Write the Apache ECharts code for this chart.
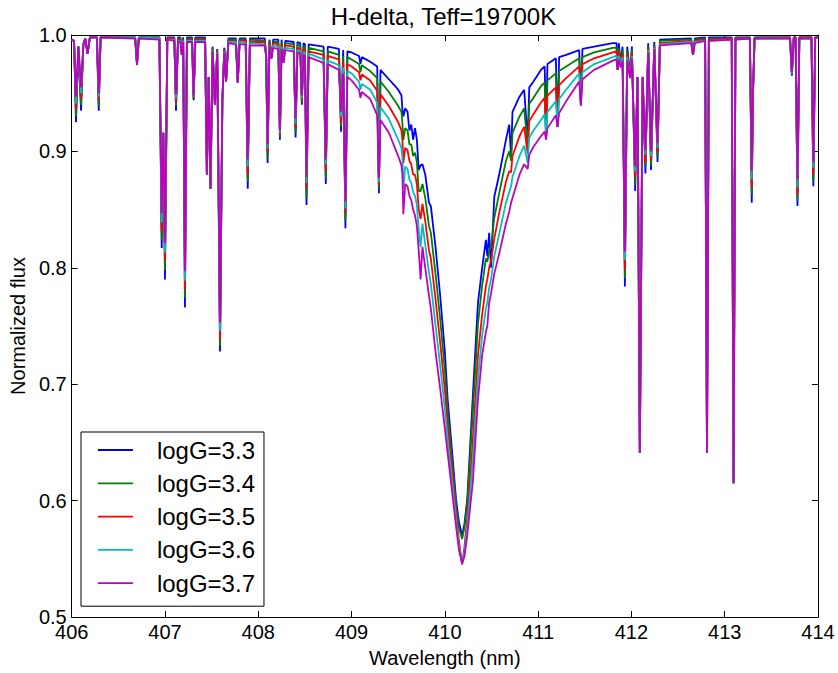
<!DOCTYPE html>
<html>
<head>
<meta charset="utf-8">
<script src="https://cdn.jsdelivr.net/npm/echarts@6/dist/echarts.min.js"></script>
<style>
html,body{margin:0;padding:0;background:#fff;}
#chart{width:838px;height:673px;}
</style>
</head>
<body>
<div id="chart"></div>
<script>
// Wavelength grid (nm), shared by all series
const wavelength = [
  406.000, 406.025, 406.046, 406.072, 406.100, 406.125, 406.145, 406.170,
  406.195, 406.270, 406.290, 406.310, 406.680, 406.700, 406.720, 406.940,
  406.965, 406.982, 407.000, 407.025, 407.100, 407.118, 407.140, 407.165,
  407.180, 407.195, 407.214, 407.235, 407.290, 407.307, 407.325, 407.430,
  407.449, 407.468, 407.488, 407.510, 407.535, 407.560, 407.590, 407.615,
  407.636, 407.655, 407.680, 407.760, 407.780, 407.800, 407.865, 407.887,
  407.910, 408.070, 408.085, 408.100, 408.120, 408.140, 408.160, 408.215,
  408.232, 408.250, 408.270, 408.290, 408.380, 408.400, 408.420, 408.450,
  408.467, 408.485, 408.500, 408.517, 408.540, 408.700, 408.724, 408.745,
  408.865, 408.887, 408.910, 408.934, 408.955, 409.000, 409.080, 409.095,
  409.110, 409.200, 409.275, 409.293, 409.310, 409.400, 409.500, 409.535,
  409.545, 409.555, 409.575, 409.600, 409.620, 409.640, 409.660, 409.680,
  409.700, 409.720, 409.740, 409.760, 409.790, 409.830, 409.850, 409.900,
  409.950, 410.000, 410.030, 410.080, 410.120, 410.150, 410.185, 410.210,
  410.240, 410.280, 410.300, 410.355, 410.400, 410.440, 410.455, 410.475,
  410.495, 410.530, 410.585, 410.655, 410.690, 410.710, 410.725, 410.800,
  410.850, 410.888, 410.905, 410.950, 411.030, 411.070, 411.085, 411.100,
  411.190, 411.208, 411.225, 411.300, 411.440, 411.458, 411.475, 411.600,
  411.800, 411.840, 411.852, 411.865, 411.885, 411.905, 411.930, 411.955,
  411.985, 412.005, 412.040, 412.065, 412.090, 412.120, 412.150, 412.180,
  412.210, 412.245, 412.280, 412.305, 412.640, 412.660, 412.680, 412.790,
  412.810, 412.830, 413.075, 413.095, 413.115, 413.270, 413.290, 413.303,
  413.320, 413.700, 413.720, 413.740, 413.760, 413.780, 413.800, 413.930,
  413.950, 413.970, 414.000
];

const fluxLogG33 = [
  .996, .995, .925, .990, .935, .992, .997, .984,
  .998, .998, .935, .998, .998, .975, .998, .998,
  .817, .916, .790, .998, .998, .935, .998, .998,
  .983, .998, .766, .998, .998, .944, .998, .998,
  .880, .964, .868, .990, .940, .988, .728, .944,
  .989, .960, .997, .997, .959, .997, .997, .868,
  .997, .997, .981, .890, .996, .980, .996, .996,
  .910, .996, .976, .995, .994, .912, .994, .993,
  .940, .993, .992, .854, .992, .990, .872, .990,
  .988, .917, .987, .834, .986, .985, .982, .975,
  .981, .977, .973, .864, .970, .962, .953, .948,
  .936, .930, .937, .934, .918, .923, .910, .920,
  .910, .884, .888, .889, .880, .856, .853, .818,
  .776, .728, .687, .640, .601, .582, .570, .580,
  .601, .660, .690, .770, .800, .824, .810, .830,
  .800, .861, .881, .910, .923, .895, .934, .947,
  .953, .910, .955, .960, .970, .973, .918, .975,
  .980, .921, .981, .983, .987, .943, .988, .990,
  .993, .993, .970, .993, .975, .990, .784, .990,
  .966, .990, .866, .964, .641, .964, .881, .993,
  .884, .994, .891, .996, .997, .983, .997, .998,
  .641, .998, .998, .615, .998, .998, .856, .950,
  .998, .998, .965, .998, .998, .853, .998, .998,
  .870, .998, .998
];

const fluxLogG34 = [
  .996, .995, .930, .990, .940, .992, .997, .984,
  .998, .998, .939, .998, .998, .975, .998, .998,
  .824, .916, .798, .997, .997, .939, .997, .997,
  .983, .997, .774, .997, .997, .945, .997, .997,
  .880, .964, .868, .989, .940, .987, .733, .944,
  .988, .960, .996, .996, .959, .996, .996, .874,
  .996, .995, .981, .894, .995, .980, .994, .994,
  .912, .994, .976, .993, .992, .916, .992, .991,
  .942, .990, .990, .860, .989, .986, .877, .986,
  .983, .921, .982, .840, .981, .979, .975, .968,
  .974, .969, .963, .868, .960, .951, .939, .934,
  .924, .910, .920, .918, .906, .906, .896, .899,
  .891, .866, .866, .872, .860, .836, .830, .795,
  .756, .712, .676, .632, .596, .577, .567, .577,
  .597, .650, .676, .752, .785, .808, .805, .815,
  .818, .843, .865, .892, .900, .892, .916, .930,
  .937, .905, .941, .946, .956, .959, .916, .961,
  .967, .921, .969, .973, .980, .942, .981, .985,
  .989, .989, .970, .989, .975, .987, .791, .987,
  .965, .988, .871, .964, .641, .964, .887, .991,
  .888, .992, .895, .995, .996, .983, .996, .997,
  .641, .997, .997, .615, .997, .998, .863, .950,
  .998, .998, .966, .998, .998, .858, .998, .998,
  .874, .998, .998
];

const fluxLogG35 = [
  .996, .995, .936, .990, .945, .992, .997, .984,
  .998, .998, .943, .998, .998, .975, .998, .997,
  .831, .916, .806, .997, .997, .942, .996, .996,
  .983, .996, .781, .996, .996, .946, .996, .996,
  .880, .964, .868, .988, .940, .986, .738, .944,
  .987, .960, .995, .995, .959, .995, .995, .880,
  .994, .994, .981, .899, .993, .980, .993, .992,
  .914, .992, .976, .991, .990, .920, .989, .988,
  .944, .988, .987, .868, .986, .983, .883, .982,
  .979, .925, .977, .847, .975, .973, .968, .961,
  .966, .961, .952, .871, .949, .939, .925, .918,
  .910, .890, .903, .901, .892, .889, .880, .880,
  .872, .850, .842, .855, .840, .815, .808, .773,
  .736, .695, .664, .624, .590, .566, .545, .560,
  .585, .628, .652, .725, .760, .784, .790, .800,
  .806, .825, .848, .874, .883, .882, .896, .913,
  .921, .898, .926, .932, .942, .946, .914, .948,
  .955, .921, .957, .963, .973, .941, .975, .980,
  .985, .986, .970, .986, .974, .984, .798, .984,
  .964, .985, .878, .964, .641, .964, .891, .989,
  .892, .990, .899, .993, .995, .983, .995, .996,
  .641, .996, .997, .615, .997, .997, .869, .950,
  .997, .998, .967, .998, .998, .863, .998, .998,
  .880, .998, .998
];

const fluxLogG36 = [
  .996, .995, .941, .990, .950, .992, .997, .984,
  .998, .998, .947, .998, .998, .975, .998, .997,
  .839, .916, .813, .996, .996, .946, .995, .995,
  .983, .995, .789, .995, .995, .947, .995, .995,
  .880, .964, .868, .987, .940, .985, .746, .944,
  .986, .960, .994, .994, .959, .994, .993, .887,
  .993, .992, .981, .903, .991, .980, .991, .990,
  .916, .990, .976, .989, .988, .924, .987, .986,
  .946, .985, .985, .873, .984, .979, .889, .978,
  .974, .930, .972, .851, .969, .967, .960, .953,
  .958, .953, .942, .874, .938, .928, .910, .903,
  .895, .868, .887, .885, .876, .873, .865, .862,
  .854, .832, .818, .838, .820, .796, .786, .751,
  .716, .679, .652, .615, .584, .561, .546, .556,
  .577, .615, .635, .705, .742, .765, .770, .783,
  .790, .810, .830, .856, .865, .870, .878, .896,
  .905, .890, .912, .918, .927, .932, .912, .934,
  .943, .921, .945, .953, .967, .940, .968, .975,
  .981, .982, .970, .982, .973, .981, .807, .981,
  .964, .982, .883, .964, .641, .964, .897, .987,
  .896, .989, .903, .992, .994, .983, .994, .995,
  .641, .995, .996, .615, .996, .997, .876, .950,
  .997, .997, .967, .997, .997, .869, .997, .997,
  .886, .998, .998
];

const fluxLogG37 = [
  .996, .995, .947, .990, .955, .992, .997, .984,
  .998, .998, .950, .998, .997, .974, .997, .996,
  .847, .916, .821, .996, .995, .949, .995, .994,
  .983, .994, .797, .994, .994, .948, .994, .994,
  .880, .964, .868, .986, .940, .984, .753, .944,
  .985, .960, .993, .992, .959, .992, .992, .893,
  .991, .991, .981, .906, .990, .980, .989, .988,
  .918, .988, .976, .987, .986, .928, .985, .984,
  .948, .983, .982, .878, .981, .976, .893, .975,
  .970, .934, .967, .857, .964, .961, .953, .946,
  .951, .945, .931, .877, .927, .916, .896, .888,
  .880, .846, .872, .870, .862, .858, .850, .845,
  .836, .815, .790, .818, .800, .776, .765, .728,
  .696, .662, .641, .606, .578, .558, .546, .552,
  .570, .601, .616, .687, .725, .745, .750, .770,
  .778, .795, .813, .838, .848, .856, .860, .880,
  .889, .885, .897, .904, .913, .917, .910, .920,
  .931, .921, .933, .943, .960, .939, .962, .970,
  .978, .979, .970, .979, .972, .978, .814, .978,
  .963, .980, .887, .964, .641, .964, .901, .985,
  .900, .988, .907, .991, .993, .983, .993, .995,
  .641, .995, .996, .615, .996, .997, .883, .950,
  .997, .997, .968, .997, .997, .876, .997, .997,
  .891, .998, .998
];

const seriesNames = ['logG=3.3', 'logG=3.4', 'logG=3.5', 'logG=3.6', 'logG=3.7'];
const seriesColors = ['#0000ff', '#008000', '#ff0000', '#00bfbf', '#bf00bf'];
const fluxSets = [fluxLogG33, fluxLogG34, fluxLogG35, fluxLogG36, fluxLogG37];

const xTicks = [406, 407, 408, 409, 410, 411, 412, 413, 414];
const yTicks = [0.5, 0.6, 0.7, 0.8, 0.9, 1.0];

const titleText = 'H-delta, Teff=19700K';
const xLabel = 'Wavelength (nm)';
const yLabel = 'Normalized flux';

const FONT = '"Liberation Sans", Arial, Helvetica, sans-serif';

const chart = echarts.init(document.getElementById('chart'), null, {renderer: 'svg'});

const axisCommon = {
  axisLine: {show: true, onZero: false, lineStyle: {color: '#000', width: 1}},
  axisTick: {show: true, inside: true, length: 6, lineStyle: {color: '#000', width: 1}},
  splitLine: {show: false},
  minorTick: {show: false}
};

const option = {
  animation: false,
  backgroundColor: '#fff',
  graphic: [{
    type: 'text',
    x: 443.5, y: 16,
    style: {
      text: titleText, fill: '#000',
      font: '24px ' + FONT,
      fontSize: 24, fontFamily: FONT,
      textAlign: 'center', textVerticalAlign: 'middle',
      align: 'center', verticalAlign: 'middle'
    }
  }],
  grid: {left: 69, right: 20, top: 35, bottom: 55, containLabel: false, show: false},
  legend: {
    orient: 'vertical',
    left: 81, top: 432,
    padding: [6, 9, 11, 16],
    itemGap: 9.3,
    itemWidth: 35, itemHeight: 24,
    backgroundColor: '#fff',
    borderColor: '#000', borderWidth: 1, borderRadius: 0,
    itemStyle: {opacity: 0, borderWidth: 0},
    lineStyle: {width: 1.8, opacity: 1},
    textStyle: {fontSize: 24, fontFamily: FONT, color: '#000', padding: [0, 0, 0, 19], lineHeight: 24},
    data: seriesNames.map(n => ({name: n})),
    selectedMode: false
  },
  xAxis: [
    Object.assign({}, axisCommon, {
      type: 'value', min: xTicks[0], max: xTicks[xTicks.length - 1], interval: 1,
      position: 'bottom',
      name: xLabel, nameLocation: 'middle', nameGap: 31,
      nameTextStyle: {fontSize: 20, fontFamily: FONT, color: '#000'},
      axisLabel: {show: true, fontSize: 20, fontFamily: FONT, color: '#000', margin: 5,
                  formatter: v => String(Math.round(v))}
    }),
    Object.assign({}, axisCommon, {
      type: 'value', min: xTicks[0], max: xTicks[xTicks.length - 1], interval: 1,
      position: 'top', axisLabel: {show: false}
    })
  ],
  yAxis: [
    Object.assign({}, axisCommon, {
      type: 'value', min: yTicks[0], max: yTicks[yTicks.length - 1], interval: 0.1,
      position: 'left',
      name: yLabel, nameLocation: 'middle', nameGap: 42, nameRotate: 90,
      nameTextStyle: {fontSize: 20, fontFamily: FONT, color: '#000'},
      axisLabel: {show: true, fontSize: 20, fontFamily: FONT, color: '#000', margin: 5,
                  formatter: v => v.toFixed(1)}
    }),
    Object.assign({}, axisCommon, {
      type: 'value', min: yTicks[0], max: yTicks[yTicks.length - 1], interval: 0.1,
      position: 'right', axisLabel: {show: false}
    })
  ],
  series: seriesNames.map((name, k) => ({
    name: name,
    type: 'line',
    xAxisIndex: 0, yAxisIndex: 0,
    data: wavelength.map((w, i) => [w, fluxSets[k][i]]),
    showSymbol: false, symbol: 'none',
    lineStyle: {color: seriesColors[k], width: 1.8},
    itemStyle: {color: seriesColors[k]},
    clip: true,
    z: 2 + k
  }))
};

fluxSets.forEach((f, k) => { if (f.length !== wavelength.length) console.error('length mismatch', k, f.length, wavelength.length); });

chart.setOption(option);
</script>
</body>
</html>
